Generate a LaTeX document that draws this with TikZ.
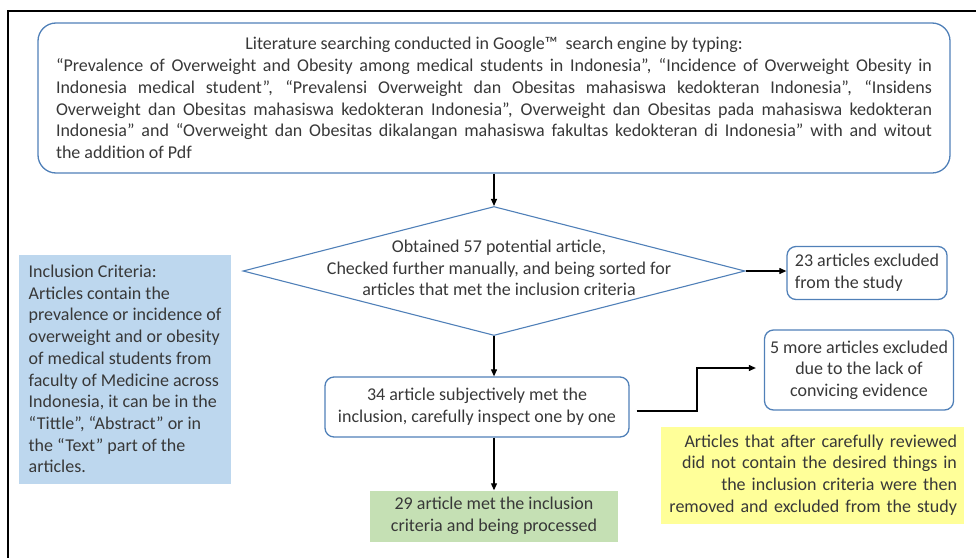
\documentclass[tikz,border=0pt]{standalone}
\usepackage{fontspec}
\setmainfont{Carlito}
\usetikzlibrary{shapes.geometric, arrows.meta, positioning}

\definecolor{flowblue}{HTML}{5080B8}
\definecolor{critblue}{HTML}{BDD7EE}
\definecolor{notegold}{HTML}{FFFF99}
\definecolor{donegreen}{HTML}{C5E0B4}
\definecolor{inkgray}{HTML}{383838}

\tikzset{
  txt/.style={font=\fontsize{18}{21.7}\selectfont, text=inkgray, inner sep=0pt},
  roundbox/.style={txt, draw=flowblue, line width=1.3pt, rounded corners=9pt},
  flatbox/.style={txt},
  decision/.style={draw=flowblue, line width=1.1pt, shape=diamond, inner sep=0pt},
  link/.style={line width=0.4mm, black, -{Triangle[length=7pt,width=6pt]}},
}

\begin{document}
\begin{tikzpicture}[x=1pt, y=-1pt]
            \useasboundingbox (0,0) rectangle (976,557);
            \draw[line width=0.45mm, black] (8,560) -- (8,11) -- (980,11);

            \node[roundbox, rounded corners=18pt, minimum width=912pt, minimum height=150pt, text width=876pt, align=left] (search) at (494,98)
                {\spaceskip=0.22em plus 1em minus 0.05em
                 \makebox[\hsize][c]{Literature searching conducted in Google™~ search engine by typing:}\\
                 \makebox[\hsize][s]{“Prevalence of Overweight and Obesity among medical students in Indonesia”, “Incidence of Overweight Obesity in}\\
                 \makebox[\hsize][s]{Indonesia medical student”, “Prevalensi Overweight dan Obesitas mahasiswa kedokteran Indonesia”, “Insidens}\\
                 \makebox[\hsize][s]{Overweight dan Obesitas mahasiswa kedokteran Indonesia”, Overweight dan Obesitas pada mahasiswa kedokteran}\\
                 \makebox[\hsize][s]{Indonesia” and “Overweight dan Obesitas dikalangan mahasiswa fakultas kedokteran di Indonesia” with and witout}\\
                 the addition of Pdf};

            \node[decision, minimum width=502pt, minimum height=129pt] (check) at (494,271) {};
            \node[txt, align=center] (checktxt) at (499,268)
                {Obtained 57 potential article,\\ Checked further manually, and being sorted for\\ articles that met the inclusion criteria};

            \node[roundbox, minimum width=160pt, minimum height=53pt, align=left] (excl23) at (867,273)
                {23 articles excluded\\ from the study};

            \node[roundbox, minimum width=304pt, minimum height=60pt, align=center] (subj) at (477,407)
                {34 article subjectively met the\\ inclusion, carefully inspect one by one};

            \node[roundbox, minimum width=189pt, minimum height=80pt, align=center] (excl5) at (859,370)
                {5 more articles excluded\\ due to the lack of\\ convicing evidence};

            \node[flatbox, fill=donegreen, minimum width=248pt, minimum height=51pt, align=center] (done) at (494,516)
                {29 article met the inclusion\\ criteria and being processed};

            \node[flatbox, fill=critblue, minimum width=212pt, minimum height=229pt, align=left] (criteria) at (125,369)
                {Inclusion Criteria:\\ Articles contain the\\ prevalence or incidence of\\ overweight and or obesity\\ of medical students from\\ faculty of Medicine across\\ Indonesia, it can be in the\\ “Tittle”, “Abstract” or in\\ the “Text” part of the\\ articles.};

            \node[flatbox, fill=notegold, minimum width=303pt, minimum height=97pt, text width=290pt, align=right] (note) at (812,475)
                {Articles that after carefully reviewed\\ did not contain the desired things in\\ the inclusion criteria were then\\ removed and excluded from the study};

            \coordinate (bend) at (697,368);

            \draw[link] (search) -- (check);
            \draw[link] (check.east) -- (check.east -| excl23.west);
            \draw[link] (check.south) -- (check.south |- subj.north);
            \draw[link] (check.south |- subj.south) -- (check.south |- done.north);
            \draw[link, shorten <=7pt, shorten >=8pt] ([yshift=-4pt]subj.east) -| (bend) -- (bend -| excl5.west);
        \end{tikzpicture}
\end{document}
